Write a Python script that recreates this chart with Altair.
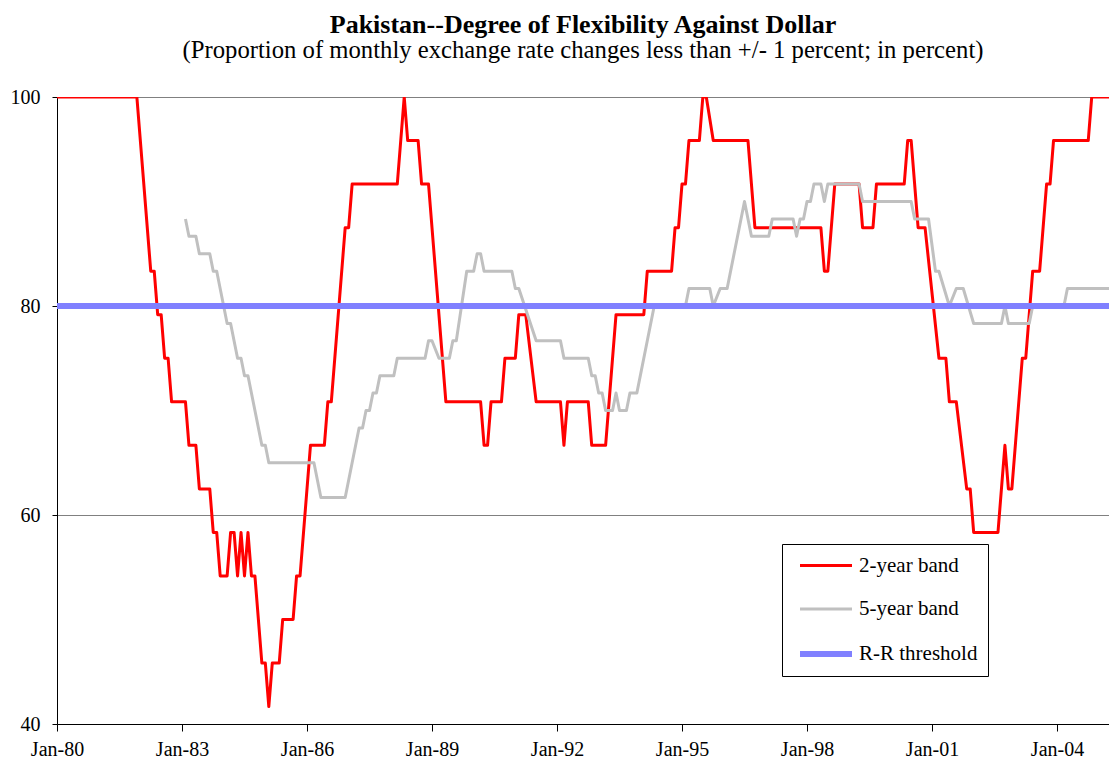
import json
import altair as alt
import pandas as pd

# ---------------- data ----------------
series_names = ["2-year band", "5-year band", "R-R threshold"]
series_colors = ["#FF0000", "#C0C0C0", "#8080FF"]
series_widths = [3, 3, 6]

band2_dates = [
    "1980-01", "1981-12", "1982-04", "1982-05", "1982-06", "1982-07", "1982-08", "1982-09",
    "1982-10", "1983-02", "1983-03", "1983-05", "1983-06", "1983-09", "1983-10", "1983-11",
    "1983-12", "1984-02", "1984-03", "1984-04", "1984-05", "1984-06", "1984-07", "1984-08",
    "1984-09", "1984-10", "1984-12", "1985-01", "1985-02", "1985-03", "1985-05", "1985-06",
    "1985-09", "1985-10", "1985-11", "1986-02", "1986-06", "1986-07", "1986-08", "1986-12",
    "1987-01", "1987-02", "1988-03", "1988-05", "1988-06", "1988-09", "1988-10", "1988-12",
    "1989-05", "1990-03", "1990-04", "1990-05", "1990-06", "1990-09", "1990-10", "1991-01",
    "1991-02", "1991-04", "1991-07", "1992-02", "1992-03", "1992-04", "1992-10", "1992-11",
    "1993-03", "1993-06", "1994-02", "1994-03", "1994-10", "1994-11", "1994-12", "1995-01",
    "1995-02", "1995-03", "1995-06", "1995-07", "1995-08", "1995-10", "1996-08", "1996-10",
    "1998-05", "1998-06", "1998-07", "1998-09", "1999-04", "1999-05", "1999-08", "1999-09",
    "2000-05", "2000-06", "2000-07", "2000-09", "2000-11", "2001-03", "2001-05", "2001-06",
    "2001-08", "2001-11", "2001-12", "2002-01", "2002-08", "2002-10", "2002-11", "2002-12",
    "2003-03", "2003-04", "2003-06", "2003-08", "2003-10", "2003-11", "2003-12", "2004-10",
    "2004-11", "2005-06",
]
band2_values = [
    100, 100, 83.33, 83.33, 79.17, 79.17, 75, 75,
    70.83, 70.83, 66.67, 66.67, 62.5, 62.5, 58.33, 58.33,
    54.17, 54.17, 58.33, 58.33, 54.17, 58.33, 54.17, 58.33,
    54.17, 54.17, 45.83, 45.83, 41.67, 45.83, 45.83, 50,
    50, 54.17, 54.17, 66.67, 66.67, 70.83, 70.83, 87.5,
    87.5, 91.67, 91.67, 100, 95.83, 95.83, 91.67, 91.67,
    70.83, 70.83, 66.67, 66.67, 70.83, 70.83, 75, 75,
    79.17, 79.17, 70.83, 70.83, 66.67, 70.83, 70.83, 66.67,
    66.67, 79.17, 79.17, 83.33, 83.33, 87.5, 87.5, 91.67,
    91.67, 95.83, 95.83, 100, 100, 95.83, 95.83, 87.5,
    87.5, 83.33, 83.33, 91.67, 91.67, 87.5, 87.5, 91.67,
    91.67, 95.83, 95.83, 87.5, 87.5, 75, 75, 70.83,
    70.83, 62.5, 62.5, 58.33, 58.33, 66.67, 62.5, 62.5,
    75, 75, 83.33, 83.33, 91.67, 91.67, 95.83, 95.83,
    100, 100,
]

band5_dates = [
    "1983-02", "1983-03", "1983-05", "1983-06", "1983-09", "1983-10", "1983-11", "1984-02",
    "1984-03", "1984-05", "1984-06", "1984-07", "1984-08", "1984-12", "1985-01", "1985-02",
    "1986-03", "1986-05", "1986-12", "1987-04", "1987-05", "1987-06", "1987-07", "1987-08",
    "1987-09", "1987-10", "1988-02", "1988-03", "1988-11", "1988-12", "1989-01", "1989-03",
    "1989-06", "1989-07", "1989-08", "1989-11", "1990-01", "1990-02", "1990-03", "1990-04",
    "1990-12", "1991-01", "1991-02", "1991-07", "1992-02", "1992-03", "1992-10", "1992-11",
    "1992-12", "1993-01", "1993-02", "1993-03", "1993-05", "1993-06", "1993-07", "1993-09",
    "1993-10", "1993-12", "1994-05", "1995-02", "1995-03", "1995-09", "1995-10", "1995-12",
    "1996-02", "1996-07", "1996-09", "1997-02", "1997-03", "1997-09", "1997-10", "1997-11",
    "1997-12", "1998-01", "1998-02", "1998-03", "1998-05", "1998-06", "1998-07", "1999-04",
    "1999-05", "2000-07", "2000-08", "2000-12", "2001-02", "2001-03", "2001-06", "2001-08",
    "2001-10", "2002-01", "2002-09", "2002-10", "2002-11", "2003-05", "2003-06", "2004-03",
    "2004-04", "2005-06",
]
band5_values = [
    88.33, 86.67, 86.67, 85, 85, 83.33, 83.33, 78.33,
    78.33, 75, 75, 73.33, 73.33, 66.67, 66.67, 65,
    65, 61.67, 61.67, 68.33, 68.33, 70, 70, 71.67,
    71.67, 73.33, 73.33, 75, 75, 76.67, 76.67, 75,
    75, 76.67, 76.67, 83.33, 83.33, 85, 85, 83.33,
    83.33, 81.67, 81.67, 76.67, 76.67, 75, 75, 73.33,
    73.33, 71.67, 71.67, 70, 70, 71.67, 70, 70,
    71.67, 71.67, 80, 80, 81.67, 81.67, 80, 81.67,
    81.67, 90, 86.67, 86.67, 88.33, 88.33, 86.67, 88.33,
    88.33, 90, 90, 91.67, 91.67, 90, 91.67, 91.67,
    90, 90, 88.33, 88.33, 83.33, 83.33, 80, 81.67,
    81.67, 78.33, 78.33, 80, 78.33, 78.33, 80, 80,
    81.67, 81.67,
]

threshold_value = 80

x_tick_labels = ["Jan-80", "Jan-83", "Jan-86", "Jan-89", "Jan-92",
                 "Jan-95", "Jan-98", "Jan-01", "Jan-04"]
y_ticks = [40, 60, 80, 100]

title_text = "Pakistan--Degree of Flexibility Against Dollar"
subtitle_text = "(Proportion of monthly exchange rate changes less than +/- 1 percent; in percent)"

# ---------------- build tables ----------------
def month_index(s):
    y, m = s.split("-")
    return (int(y) - 1980) * 12 + int(m) - 1

red_df = pd.DataFrame({
    "month": [month_index(d) for d in band2_dates],
    "value": band2_values,
    "series": series_names[0],
})
gray_df = pd.DataFrame({
    "month": [month_index(d) for d in band5_dates],
    "value": band5_values,
    "series": series_names[1],
})
thr_df = pd.DataFrame({"value": [threshold_value], "series": [series_names[2]]})

FONT = "Liberation Serif"
tick_step = 36
PLOT_W = 1052
PLOT_H = 627
px_per_month = 125.0 / 36.0
x_end = PLOT_W / px_per_month

color_scale = alt.Scale(domain=series_names, range=series_colors)
width_scale = alt.Scale(type="ordinal", domain=series_names, range=series_widths)

legend = alt.Legend(
    title=None, orient="none", legendX=725, legendY=447, direction="vertical",
    symbolType="M-2.6,0H2.6", symbolSize=400,
    labelFont=FONT, labelFontSize=21, labelColor="black",
    strokeColor="black", fillColor="white", padding=10, rowPadding=21.5,
    labelOffset=20, symbolOffset=21,
)

x_enc = alt.X(
    "month:Q",
    scale=alt.Scale(domain=[0, x_end], nice=False, zero=False),
    axis=alt.Axis(
        values=[i * tick_step for i in range(len(x_tick_labels))],
        labelExpr=f"{json.dumps(x_tick_labels)}[round(datum.value / {tick_step})]",
        title=None, grid=False, domainColor="black", tickColor="black",
        tickSize=7, labelPadding=8, labelFont=FONT, labelFontSize=20,
        labelColor="black", labelFlush=False,
    ),
)
y_scale = alt.Scale(domain=[40, 100], nice=False, zero=False)
y_axis = alt.Axis(
    values=y_ticks, title=None, grid=True, gridColor="#808080", gridWidth=1,
    domainColor="black", tickColor="black", tickSize=5, labelPadding=12,
    labelFont=FONT, labelFontSize=20, labelColor="black",
)
color_enc = alt.Color("series:N", scale=color_scale, legend=legend)
width_enc = alt.StrokeWidth("series:N", scale=width_scale, legend=legend)

red = alt.Chart(red_df).mark_line(strokeJoin="round", clip=True).encode(
    x=x_enc, y=alt.Y("value:Q", scale=y_scale, axis=y_axis),
    color=color_enc, strokeWidth=width_enc,
)
gray = alt.Chart(gray_df).mark_line(strokeJoin="round", clip=True).encode(
    x=x_enc, y=alt.Y("value:Q", scale=y_scale),
    color=color_enc, strokeWidth=width_enc,
)
threshold = alt.Chart(thr_df).mark_rule().encode(
    y=alt.Y("value:Q", scale=y_scale),
    color=color_enc, strokeWidth=width_enc,
)

chart = alt.layer(red, gray, threshold).properties(
    width=PLOT_W, height=PLOT_H,
    title=alt.Title(
        text=title_text, subtitle=subtitle_text, anchor="middle",
        font=FONT, fontSize=26, fontWeight="bold", color="black",
        subtitleFont=FONT, subtitleFontSize=24.7, subtitleColor="black",
        subtitlePadding=0.5, offset=24,
    ),
    autosize=alt.AutoSizeParams(type="none"),
    padding={"left": 49, "top": 89, "right": 0, "bottom": 37},
).configure_view(stroke=None).configure(background="white")

chart.save("out.html", embed_options={"renderer": "svg", "actions": False})
